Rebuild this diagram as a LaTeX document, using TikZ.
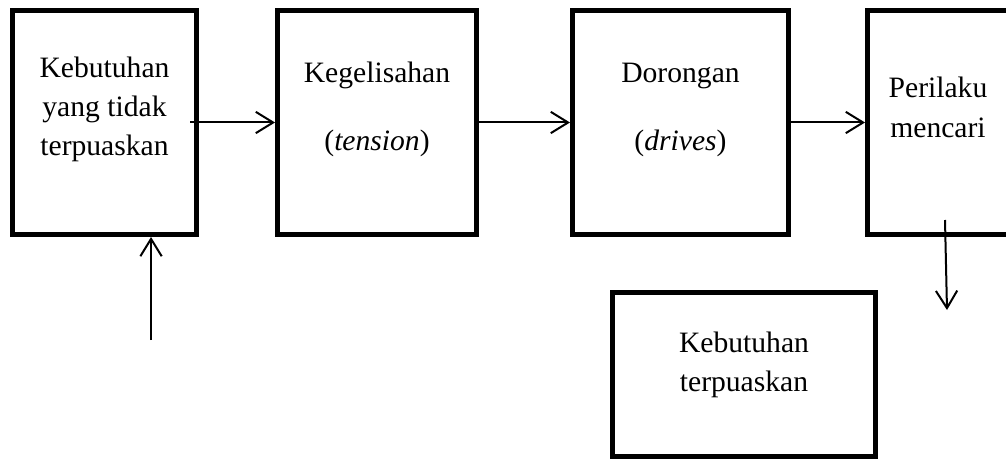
\documentclass[tikz,border=0pt]{standalone}
\usepackage{fontspec}
\setmainfont{Liberation Serif}
\usetikzlibrary{arrows.meta,positioning}

\begin{document}
\begin{tikzpicture}[
    box/.style={rectangle, draw, line width=3.5pt, inner sep=0pt, align=center, minimum height=168.25pt, text depth=0pt, font=\fontsize{22.2pt}{29.25pt}\selectfont},
    arrow/.style={-{Straight Barb[length=13pt,width=16pt]}, line width=1.5pt}
]

\useasboundingbox (-78.375pt,91.875pt) rectangle ++(754.5pt,-345pt);

\node[box, minimum width=138.25pt, text height=50.25pt] (need) {Kebutuhan\\yang tidak\\terpuaskan};
\node[box, right=57pt of need, minimum width=149.5pt, text height=42.75pt] (tension) {Kegelisahan\\[21.75pt](\textit{tension})};
\node[box, right=68.25pt of tension, minimum width=162.25pt, text height=42.75pt] (drives) {Dorongan\\[21.75pt](\textit{drives})};
\node[box, right=55.5pt of drives, minimum width=106pt, text height=21.75pt] (seek) {Perilaku\\mencari};

\node[box, below right=39.75pt and -135.75pt of drives, minimum width=197.5pt, minimum height=123.25pt, text height=24.75pt] (done) {Kebutuhan\\terpuaskan};

\coordinate (src) at ([xshift=34.9pt,yshift=-77.25pt]need.south);
\coordinate (sink) at ([xshift=6.75pt,yshift=-54.75pt]seek.south);

\draw[arrow] ([xshift=-6.75pt]need.east) -- (tension.west);
\draw[arrow] (tension) -- (drives);
\draw[arrow] (drives) -- (seek);
\draw[arrow] (src) -- (src |- need.south);
\draw[arrow] ([xshift=5.25pt,yshift=12.75pt]seek.south) -- (sink);

\end{tikzpicture}
\end{document}
